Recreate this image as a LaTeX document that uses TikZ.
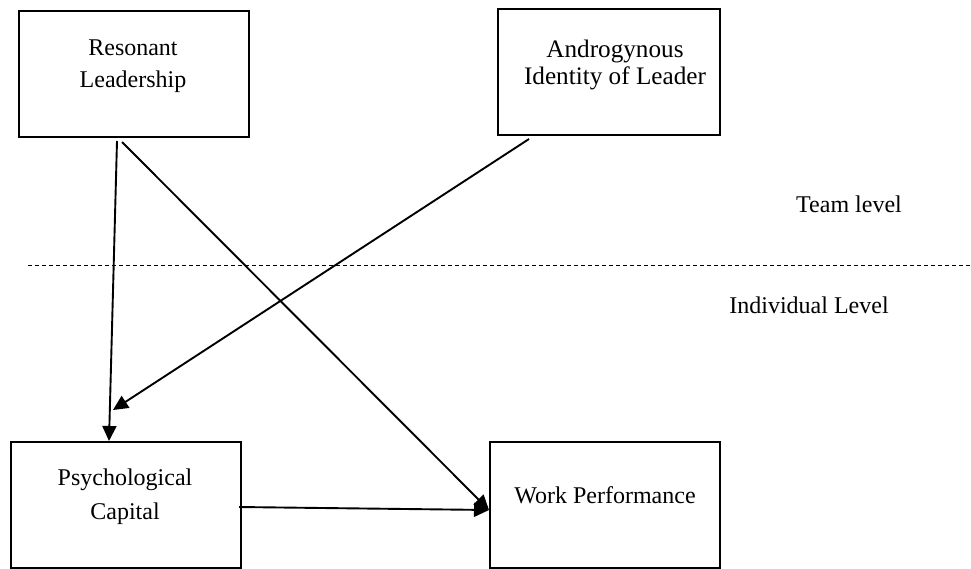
\documentclass[tikz,border=0pt]{standalone}
\usepackage{fontspec}
\setmainfont{Liberation Serif}
\usetikzlibrary{arrows.meta}
\begin{document}
\begin{tikzpicture}[x=1pt,y=-1pt,
  box/.style={draw,line width=2.3pt,minimum width=230pt,minimum height=126pt,anchor=north west,inner sep=0pt},
  lbl/.style={font=\fontsize{24}{24}\selectfont,anchor=base,inner sep=0pt},
  lblb/.style={font=\fontsize{25.2}{25}\selectfont,anchor=base,inner sep=0pt},
  conn/.style={line width=1.9pt,-{Triangle[length=15pt,width=14pt]}},
  sep/.style={line width=0.9pt,dash pattern=on 4pt off 3pt}]
\useasboundingbox (0,0) rectangle (971,568);
% boxes
\node[box] (rl) at (18,10) {};
\node[box,minimum width=222pt] (ail) at (497,8) {};
\node[box] (pc) at (10,441) {};
\node[box] (wp) at (489,441) {};
% texts
\node[lbl] (rl1) at (133,55) {Resonant};
\node[lbl] (rl2) at (133,87) {Leadership};
\node[lblb] (ail1) at (615,57) {Androgynous};
\node[lblb] (ail2) at (615,84) {Identity of Leader};
\node[lbl] (pc1) at (125,485) {Psychological};
\node[lbl] (pc2) at (125,519) {Capital};
\node[lbl] (wp1) at (605,503) {Work Performance};
\node[lbl] (team) at (849,212) {Team level};
\node[lbl] (ind) at (809,313) {Individual Level};
% separator
\coordinate (dl) at (28,265);
\coordinate (dr) at (971,265);
\draw[sep] (dl) -- (dr);
% connector end points
\coordinate (rlA) at (117,141);
\coordinate (rlB) at (122,142);
\coordinate (ailA) at (529,139);
\coordinate (pcTop) at (109,441);
\coordinate (pcHit) at (113,410);
\coordinate (pcR) at (239,507);
\coordinate (wpL) at (489,510);
% connectors
\draw[conn] (rlA) -- (pcTop);
\draw[conn] (rlB) -- (wpL);
\draw[conn] (ailA) -- (pcHit);
\draw[conn] (pcR) -- (wpL);
\end{tikzpicture}
\end{document}
